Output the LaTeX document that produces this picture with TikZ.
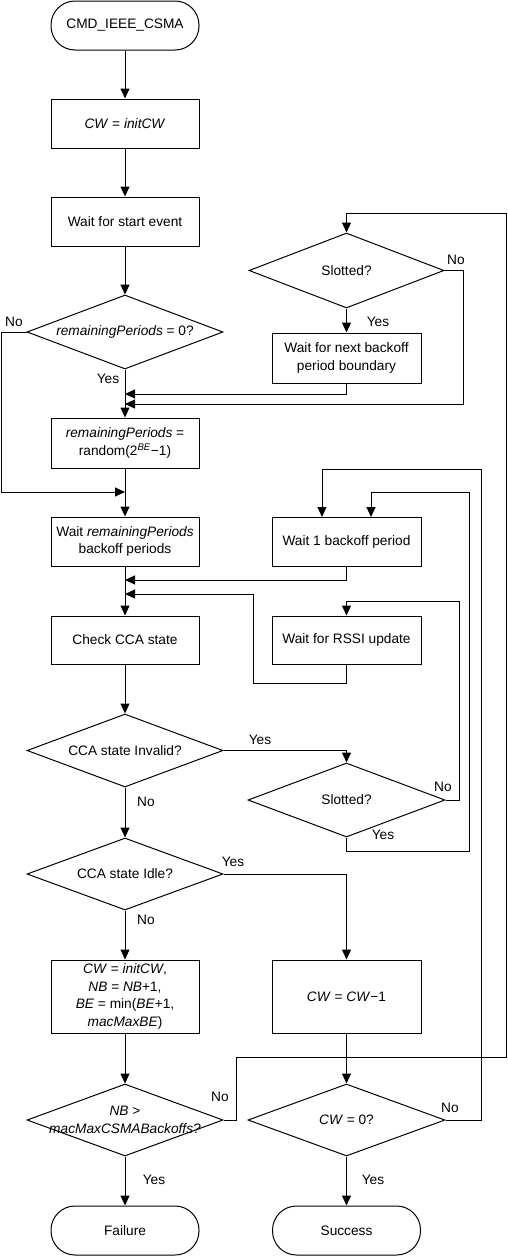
\documentclass[tikz,border=0pt]{standalone}
\usepackage{fontspec}
\setmainfont{Liberation Sans}
\usetikzlibrary{shapes.geometric,arrows.meta}
\begin{document}
\begin{tikzpicture}[x=1pt,y=-1pt,
  every node/.style={font=\fontsize{13.7}{17.5}\selectfont},
  line/.style={line width=1pt},
  arr/.style={line width=1pt,-{Triangle[length=10pt,width=9pt]}},
  box/.style={draw,line width=1pt,rectangle,inner sep=0pt,minimum width=148pt,align=center},
  term/.style={draw,line width=1pt,rectangle,rounded corners=24pt,inner sep=0pt,minimum width=148pt,minimum height=49pt},
  dia/.style={draw,line width=1pt,diamond,inner sep=0pt,minimum width=196pt,minimum height=74pt},
  txt/.style={inner sep=0pt,align=center},
  lbl/.style={inner sep=0pt}]
\useasboundingbox (0,0) rectangle (508,1256);
% nodes
\node[term] (start) at (125,25.5) {CMD\_IEEE\_CSMA};
\node[box,minimum height=49pt] (init) at (125,123.5) {\textit{CW} = \textit{initCW}};
\node[box,minimum height=49pt] (wstart) at (125,221.5) {Wait for start event};
\node[dia] (d1) at (125,332) {};
\node[txt] (d1t) at (d1.center) {\textit{remainingPeriods} = 0?};
\node[dia,minimum width=195pt,minimum height=75pt] (s1) at (346.5,270.5) {};
\node[txt] (s1t) at (s1.center) {Slotted?};
\node[box,minimum width=149pt,minimum height=50pt] (wnext) at (346.5,358) {Wait for next backoff\\period boundary};
\node[box,minimum height=50pt] (rem) at (125,443) {\textit{remainingPeriods} =\\random(2\textsuperscript{\textit{BE}}−1)};
\node[box,minimum height=49pt] (wrem) at (125,541.5) {Wait \textit{remainingPeriods}\\backoff periods};
\node[box,minimum width=149pt,minimum height=49pt] (w1) at (346.5,541.5) {Wait 1 backoff period};
\node[box,minimum height=48pt] (check) at (125,640) {Check CCA state};
\node[box,minimum width=149pt,minimum height=48pt] (rssi) at (346.5,640) {Wait for RSSI update};
\node[dia,minimum height=73pt] (d2) at (125,750.5) {};
\node[txt] (d2t) at (d2.center) {CCA state Invalid?};
\node[dia,minimum width=197pt,minimum height=74pt] (s2) at (346.5,800) {};
\node[txt] (s2t) at (s2.center) {Slotted?};
\node[dia,minimum height=72pt] (d3) at (125,874) {};
\node[txt] (d3t) at (d3.center) {CCA state Idle?};
\node[box,minimum height=73pt] (upd) at (125,996.5) {\textit{CW} = \textit{initCW},\\\textit{NB} = \textit{NB}+1,\\\textit{BE} = min(\textit{BE}+1,\\\textit{macMaxBE})};
\node[box,minimum width=149pt,minimum height=73pt] (cwm) at (346.5,996.5) {\textit{CW} = \textit{CW}−1};
\node[dia,minimum height=72pt] (d4) at (125,1120) {};
\node[txt] (d4t) at (d4.center) {\textit{NB} >\\\textit{macMaxCSMABackoffs?}};
\node[dia,minimum width=197pt,minimum height=72pt] (d5) at (346.5,1120) {};
\node[txt] (d5t) at (d5.center) {\textit{CW} = 0?};
\node[term] (fail) at (125,1230.5) {Failure};
\node[term] (succ) at (346.5,1230.5) {Success};
% coordinates
\coordinate (m394) at (125,394);
\coordinate (m404) at (125,404);
\coordinate (m492) at (125,492);
\coordinate (m580) at (125,580);
\coordinate (m594) at (125,594);
\coordinate (w1a) at (322,517);
\coordinate (w1b) at (371,517);
% main flow
\draw[arr] (start) -- (init);
\draw[arr] (init) -- (wstart);
\draw[arr] (wstart) -- (d1);
\draw[arr] (d1) -- (rem);
\draw[arr] (rem) -- (wrem);
\draw[arr] (wrem) -- (check);
\draw[arr] (check) -- (d2);
\draw[arr] (d2) -- (d3);
\draw[arr] (d3) -- (upd);
\draw[arr] (upd) -- (d4);
\draw[arr] (d4) -- (fail);
\draw[arr] (cwm) -- (d5);
\draw[arr] (d5) -- (succ);
\draw[arr] (s1) -- (wnext);
% branches
\draw[arr] (d1.west) -- (1.5,332) -- (1.5,492) -- (m492);
\draw[arr] (wnext.south) -- (346.5,394) -- (m394);
\draw[arr] (s1.east) -- (463,270.5) -- (463,404) -- (m404);
\draw[arr] (d4.east) -- (236,1120) -- (236,1057) -- (506.5,1057) -- (506.5,213) -- (346.5,213) -- (s1.north);
\draw[arr] (w1.south) -- (346.5,580) -- (m580);
\draw[arr] (rssi.south) -- (346.5,683) -- (253,683) -- (253,594) -- (m594);
\draw[arr] (d2.east) -- (346.5,750.5) -- (s2.north);
\draw[arr] (s2.east) -- (459,800) -- (459,601) -- (346.5,601) -- (rssi.north);
\draw[arr] (s2.south) -- (346.5,851) -- (469,851) -- (469,492) -- (371,492) -- (w1b);
\draw[arr] (d3.east) -- (346.5,874) -- (cwm.north);
\draw[arr] (d5.east) -- (481,1120) -- (481,469) -- (322,469) -- (w1a);
% labels
\node[lbl] (l1) at (14,322) {No};
\node[lbl] (l2) at (108,379) {Yes};
\node[lbl] (l3) at (378,322) {Yes};
\node[lbl] (l4) at (456,260) {No};
\node[lbl] (l5) at (260,740) {Yes};
\node[lbl] (l6) at (443,787) {No};
\node[lbl] (l7) at (383,835) {Yes};
\node[lbl] (l8) at (146,802) {No};
\node[lbl] (l9) at (233,862) {Yes};
\node[lbl] (l10) at (146,920) {No};
\node[lbl] (l11) at (220,1097) {No};
\node[lbl] (l12) at (450,1108) {No};
\node[lbl] (l13) at (154,1180) {Yes};
\node[lbl] (l14) at (373,1180) {Yes};
\end{tikzpicture}
\end{document}
